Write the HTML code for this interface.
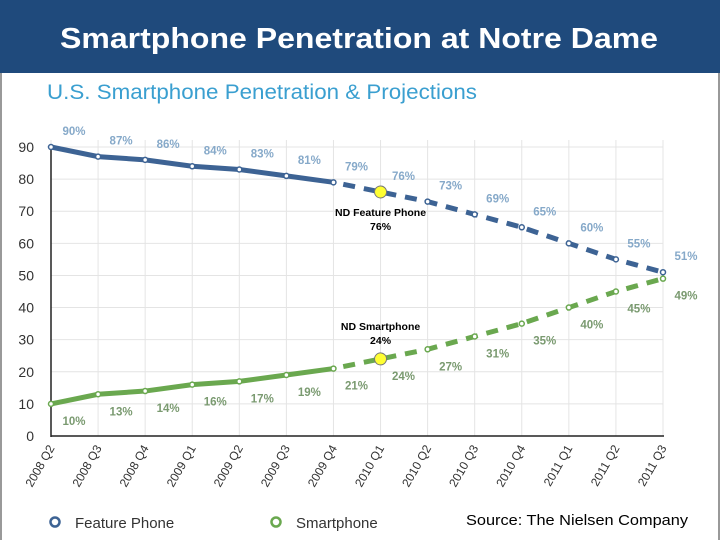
<!DOCTYPE html>
<html><head><meta charset="utf-8"><style>
body{margin:0;width:720px;height:540px;overflow:hidden;background:#fff;font-family:"Liberation Sans",sans-serif}
</style></head><body>
<svg width="720" height="540" xmlns="http://www.w3.org/2000/svg">
<rect x="0" y="0" width="720" height="540" fill="#fff"/>
<rect x="0" y="0" width="720" height="73" fill="#1f4a7c"/>
<text x="359" y="48" text-anchor="middle" font-size="29" font-weight="bold" fill="#fff" font-family="Liberation Sans,sans-serif" textLength="598" lengthAdjust="spacingAndGlyphs">Smartphone Penetration at Notre Dame</text>
<rect x="0" y="73" width="2" height="467" fill="#999"/><rect x="718" y="73" width="2" height="467" fill="#999"/>
<text x="47" y="99" font-size="21" fill="#3a9fd0" textLength="430" lengthAdjust="spacingAndGlyphs">U.S. Smartphone Penetration &amp; Projections</text>
<g id="grid"></g><g id="axes"></g><g id="series"></g>
<text x="466" y="525" font-size="15" fill="#000" textLength="222" lengthAdjust="spacingAndGlyphs">Source:  The Nielsen Company</text>
</svg>
<script>
const categories=["2008 Q2","2008 Q3","2008 Q4","2009 Q1","2009 Q2","2009 Q3","2009 Q4","2010 Q1","2010 Q2","2010 Q3","2010 Q4","2011 Q1","2011 Q2","2011 Q3"];
const featureValues=[90,87,86,84,83,81,79,76,73,69,65,60,55,51];
const smartValues=[10,13,14,16,17,19,21,24,27,31,35,40,45,49];
const yTicks=[0,10,20,30,40,50,60,70,80,90];
const ndFeature=76, ndSmart=24, ndCategory="2010 Q1";
const lastActual=6;
const NS="http://www.w3.org/2000/svg";
const x=i=>51+i*(663-51)/(categories.length-1);
const y=v=>436-v*(436-147)/90;
function mk(t,a,p){const e=document.createElementNS(NS,t);for(const k in a)e.setAttribute(k,a[k]);(p||document.querySelector('svg')).appendChild(e);return e;}
const grid=document.getElementById('grid'),axes=document.getElementById('axes'),ser=document.getElementById('series');
yTicks.forEach(v=>{
 const l=mk('line',{x1:51,x2:663,y1:y(v),y2:y(v),stroke:'#e4e4e4'},grid);
 
 
 const t=mk('text',{x:34,y:y(v)+5,'text-anchor':'end','font-size':14,fill:'#333'},axes);t.textContent=v;
 
 
});
categories.forEach((c,i)=>{
 const l=mk('line',{x1:x(i),x2:x(i),y1:140,y2:436,stroke:'#e4e4e4'},grid);
 
 
 const t=mk('text',{x:x(i)+4,y:448,'text-anchor':'end','font-size':12,fill:'#333',transform:`rotate(-60 ${x(i)+4} 448)`},axes);t.textContent=c;
 
 
});
let a=mk('line',{x1:51,x2:51,y1:147,y2:437,stroke:'#222','stroke-width':1.5},axes);


a=mk('line',{x1:51,x2:664,y1:436,y2:436,stroke:'#222','stroke-width':1.5},axes);


function series(vals,color,lblColor,dy,name){
 const pts=vals.map((v,i)=>[x(i),y(v)]);
 const s=mk('polyline',{points:pts.slice(0,lastActual+1).join(' '),fill:'none',stroke:color,'stroke-width':5},ser);
 
 
 const d=mk('polyline',{points:pts.slice(lastActual).join(' '),fill:'none',stroke:color,'stroke-width':5,'stroke-dasharray':'12 9','stroke-dashoffset':-10},ser);
 
 
 pts.forEach((p,i)=>{
  const c=mk('circle',{cx:p[0],cy:p[1],r:2.5,fill:'#fff',stroke:color,'stroke-width':1.5},ser);
  
  
  const t=mk('text',{x:p[0]+23,y:p[1]+dy,'text-anchor':'middle','font-size':11.5,'font-weight':'bold',fill:lblColor},ser);t.textContent=vals[i]+'%';
  
  
 });
}
series(featureValues,'#3d6394','#86a9c9',-12,'feature-phone');
series(smartValues,'#6aa84f','#7a9a70',21,'smartphone');
const ni=categories.indexOf(ndCategory);
[[ndFeature,'ND Feature Phone',20,'nd-feature'],[ndSmart,'ND Smartphone',-33,'nd-smart']].forEach(([v,lbl,off,n])=>{
 const c=mk('circle',{cx:x(ni),cy:y(v),r:6,fill:'#ffff33',stroke:'#777','stroke-width':1},ser);
 
 
 const t=mk('text',{x:x(ni),y:y(v)+off+4,'text-anchor':'middle','font-size':10.5,'font-weight':'bold',fill:'#000'},ser);t.textContent=lbl;
 
 
 const t2=mk('text',{x:x(ni),y:y(v)+off+18,'text-anchor':'middle','font-size':10.5,'font-weight':'bold',fill:'#000'},ser);t2.textContent=v+'%';
 
 
});
[[55,'#3d6394','Feature Phone',75,'legend-feature-phone'],[276,'#6aa84f','Smartphone',296,'legend-smartphone']].forEach(([cx,col,lbl,tx,n])=>{
 const c=mk('circle',{cx:cx,cy:522,r:4.5,fill:'#fff',stroke:col,'stroke-width':2.5});
 
 
 const t=mk('text',{x:tx,y:528,'font-size':15,fill:'#333'});t.textContent=lbl;
 
 
});
</script>
</body></html>
